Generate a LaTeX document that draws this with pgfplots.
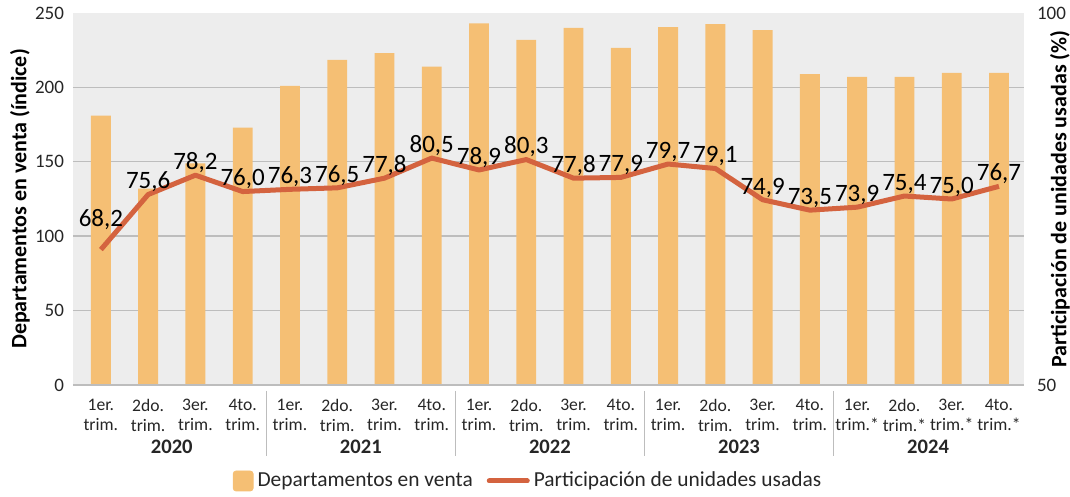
\documentclass[border=0pt]{standalone}
\usepackage{pgfplots}
\pgfplotsset{compat=1.18}
\usepackage{pgfplotstable}
\usepackage{fontspec}
\setmainfont{Carlito}
\definecolor{barc}{HTML}{F5BF74}
\definecolor{linec}{HTML}{D4633F}
\definecolor{bgc}{HTML}{EDEDED}
\definecolor{gridc}{HTML}{BDBDBD}
\definecolor{txtc}{HTML}{262626}

\pgfplotstableread{
x bar
0 181
1 132
2 149
3 173
4 201
5 218.5
6 223
7 214
8 243
9 232
10 240
11 226.5
12 240.5
13 242.5
14 238.5
15 209
16 207
17 207
18 209.7
19 209.7
}\bardata

\pgfplotstableread{
x y lab dy
0 68.2 68,2 11.5
1 75.6 75,6 2.8
2 78.2 78,2 2.8
3 76.0 76,0 2.8
4 76.3 76,3 2.8
5 76.5 76,5 2.8
6 77.8 77,8 2.8
7 80.5 80,5 2.8
8 78.9 78,9 2.8
9 80.3 80,3 2.8
10 77.8 77,8 2.8
11 77.9 77,9 2.8
12 79.7 79,7 2.8
13 79.1 79,1 2.8
14 74.9 74,9 2.8
15 73.5 73,5 2.8
16 73.9 73,9 2.8
17 75.4 75,4 2.8
18 75.0 75,0 2.8
19 76.7 76,7 2.8
}\linedata

\begin{document}
\begin{tikzpicture}
\pgfplotsset{
  base/.style={
    width=475.5pt, height=186pt, scale only axis,
    xmin=-0.59, xmax=19.53,
    axis line style={draw=none},
    major tick length=0pt,
    /pgf/number format/assume math mode=true,
    tick label style={font=\fontsize{9.5}{11}\selectfont, text=txtc},
  },
}
\begin{axis}[base, name=ax,
  axis background/.style={fill=bgc},
  ymin=0, ymax=250,
  ytick={0,50,...,250},
  extra y ticks={50,100,150,200},
  extra y tick labels={},
  extra y tick style={grid=major, major grid style={gridc, line width=0.7pt}},
  yticklabel style={xshift=-1pt},
  ylabel={Departamentos en venta (índice)},
  ylabel style={font=\bfseries\fontsize{11}{12}\selectfont, at={(rel axis cs:0,0.5)}, yshift=26.5pt, anchor=center},
  xtick={0,...,19},
  xticklabels={1er.\\trim., 2do.\\trim., 3er.\\trim., 4to.\\trim.,
               1er.\\trim., 2do.\\trim., 3er.\\trim., 4to.\\trim.,
               1er.\\trim., 2do.\\trim., 3er.\\trim., 4to.\\trim.,
               1er.\\trim., 2do.\\trim., 3er.\\trim., 4to.\\trim.,
               1er.\\trim.*, 2do.\\trim.*, 3er.\\trim.*, 4to.\\trim.*},
  xticklabel style={align=center, font=\fontsize{8.8}{10}\selectfont, yshift=-3.5pt},
  clip=false,
]
\addplot[ybar, bar width=0.42, fill=barc, draw=none] table[x=x, y=bar] {\bardata};
\draw[gridc, line width=1.4pt] (axis cs:-0.59,0) -- (axis cs:19.53,0);
\pgfplotsinvokeforeach{3.5,7.5,11.5,15.5}{
  \draw[gridc, line width=0.7pt] (axis cs:#1,0) ++(0pt,-3pt) -- ++(0pt,-32.5pt);
}
\node[font=\bfseries\fontsize{10.3}{12}\selectfont, text=txtc] at (axis cs:1.5,0) [yshift=-31pt] {2020};
\node[font=\bfseries\fontsize{10.3}{12}\selectfont, text=txtc] at (axis cs:5.5,0) [yshift=-31pt] {2021};
\node[font=\bfseries\fontsize{10.3}{12}\selectfont, text=txtc] at (axis cs:9.5,0) [yshift=-31pt] {2022};
\node[font=\bfseries\fontsize{10.3}{12}\selectfont, text=txtc] at (axis cs:13.5,0) [yshift=-31pt] {2023};
\node[font=\bfseries\fontsize{10.3}{12}\selectfont, text=txtc] at (axis cs:17.5,0) [yshift=-31pt] {2024};
\end{axis}
\begin{axis}[base,
  ymin=50, ymax=100,
  ytick={50,100},
  axis x line=none,
  yticklabel pos=right,
  yticklabel style={anchor=west, xshift=3pt},
  ylabel={Participación de unidades usadas (\%)},
  ylabel style={font=\bfseries\fontsize{11}{12}\selectfont, at={(rel axis cs:1,0.5)}, yshift=-18pt, anchor=center},
  clip=false,
  legend columns=2,
  legend style={draw=none, fill=none, at={(228pt,-48pt)}, anchor=center,
    font=\fontsize{10.7}{12}\selectfont, text=txtc,
    nodes={inner xsep=2pt},
    /tikz/every even column/.append style={column sep=5pt}},
]
\addlegendimage{legend image code/.code={\fill[barc, rounded corners=1.5pt] (0pt,-5pt) rectangle (10pt,5pt);}}
\addlegendentry{Departamentos en venta}
\addplot[linec, line width=2.5pt, line join=round,
  point meta=explicit symbolic,
  visualization depends on={\thisrow{dy}\as\dy},
  nodes near coords,
  every node near coord/.append style={anchor=base, yshift=\dy, inner sep=0pt,
    font=\fontsize{12.5}{14}\selectfont, text=black},
  legend image code/.code={\draw[linec, line width=2.5pt, line cap=round] (0pt,0pt) -- (19pt,0pt);},
] table[x=x, y=y, meta=lab] {\linedata};
\addlegendentry{Participación de unidades usadas}
\end{axis}
\pgfresetboundingbox
\path[use as bounding box] (ax.south west) ++(-36.5pt,-56pt) rectangle ++(535pt,248.5pt);
\end{tikzpicture}
\end{document}
